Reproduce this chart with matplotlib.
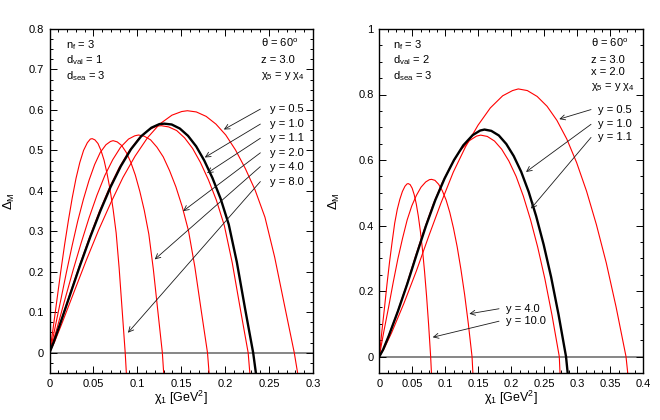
import matplotlib
matplotlib.use('Agg')
import matplotlib.pyplot as plt
from matplotlib.ticker import MultipleLocator, FixedLocator, FixedFormatter

plt.rcParams['font.family'] = ['Liberation Sans', 'DejaVu Sans']
plt.rcParams['mathtext.fontset'] = 'custom'
plt.rcParams['mathtext.rm'] = 'Liberation Sans'
plt.rcParams['mathtext.it'] = 'Liberation Sans'
plt.rcParams['mathtext.bf'] = 'Liberation Sans:bold'

# ---- left panel: d_val = 1, curves for chi5 = y chi4 ----
xl_80 = [0, 0.0017, 0.0043, 0.0086, 0.0129, 0.0172, 0.0216, 0.0259, 0.0302, 0.0345, 0.0388, 0.0431, 0.0465,
         0.0486, 0.0517, 0.0552, 0.0586, 0.0621, 0.0655, 0.0690, 0.0724, 0.0759, 0.0793, 0.0828, 0.0862, 0.0875]
yl_80 = [0, 0.023, 0.063, 0.133, 0.202, 0.267, 0.328, 0.383, 0.431, 0.470, 0.500, 0.519, 0.528,
         0.529, 0.526, 0.517, 0.500, 0.476, 0.443, 0.403, 0.355, 0.296, 0.209, 0.103, 0, -0.05]
xl_40 = [0, 0.0026, 0.0064, 0.0129, 0.0193, 0.0257, 0.0321, 0.0386, 0.0450, 0.0514, 0.0578, 0.0643, 0.0694,
         0.0724, 0.0771, 0.0822, 0.0874, 0.0925, 0.0977, 0.1028, 0.1079, 0.1131, 0.1182, 0.1234, 0.1285, 0.1300]
yl_40 = [0, 0.023, 0.063, 0.131, 0.199, 0.264, 0.325, 0.379, 0.426, 0.465, 0.495, 0.514, 0.522,
         0.524, 0.521, 0.512, 0.495, 0.471, 0.439, 0.399, 0.352, 0.293, 0.207, 0.102, 0, -0.05]
xl_20 = [0, 0.0036, 0.0090, 0.0180, 0.0270, 0.0360, 0.0450, 0.0540, 0.0630, 0.0720, 0.0810, 0.0900, 0.0971,
         0.1014, 0.1079, 0.1151, 0.1223, 0.1295, 0.1367, 0.1439, 0.1511, 0.1583, 0.1655, 0.1727, 0.1799, 0.1817]
yl_20 = [0, 0.024, 0.064, 0.135, 0.205, 0.271, 0.333, 0.389, 0.438, 0.477, 0.508, 0.528, 0.536,
         0.538, 0.535, 0.526, 0.508, 0.484, 0.450, 0.410, 0.361, 0.301, 0.212, 0.105, 0, -0.05]
xl_11 = [0, 0.0045, 0.0113, 0.0226, 0.0339, 0.0452, 0.0566, 0.0679, 0.0792, 0.0905, 0.1018, 0.1131, 0.1221,
         0.1274, 0.1357, 0.1448, 0.1538, 0.1629, 0.1719, 0.1810, 0.1900, 0.1991, 0.2081, 0.2172, 0.2262, 0.2281]
yl_11 = [0, 0.025, 0.067, 0.141, 0.214, 0.283, 0.348, 0.406, 0.457, 0.498, 0.530, 0.551, 0.560,
         0.561, 0.558, 0.549, 0.531, 0.505, 0.470, 0.427, 0.377, 0.314, 0.222, 0.109, 0, -0.05]
xl_10 = [0, 0.0046, 0.0116, 0.0232, 0.0348, 0.0464, 0.0580, 0.0696, 0.0812, 0.0928, 0.1044, 0.1160, 0.1252,
         0.1307, 0.1391, 0.1484, 0.1577, 0.1670, 0.1762, 0.1855, 0.1948, 0.2041, 0.2133, 0.2226, 0.2319, 0.2350]
yl_10 = [0, 0.025, 0.068, 0.142, 0.216, 0.286, 0.351, 0.410, 0.461, 0.503, 0.535, 0.556, 0.565,
         0.566, 0.564, 0.554, 0.536, 0.510, 0.475, 0.432, 0.381, 0.317, 0.224, 0.110, 0, -0.05]
xl_05 = [0, 0.0056, 0.0139, 0.0279, 0.0418, 0.0557, 0.0697, 0.0836, 0.0975, 0.1115, 0.1254, 0.1394, 0.1505,
         0.1570, 0.1672, 0.1784, 0.1895, 0.2007, 0.2118, 0.2230, 0.2341, 0.2453, 0.2564, 0.2676, 0.2787, 0.2825]
yl_05 = [0, 0.026, 0.071, 0.150, 0.228, 0.302, 0.370, 0.433, 0.486, 0.531, 0.565, 0.587, 0.596,
         0.598, 0.595, 0.584, 0.565, 0.538, 0.501, 0.455, 0.402, 0.335, 0.236, 0.117, 0, -0.05]

left_labels = ['y = 0.5', 'y = 1.0', 'y = 1.1', 'y = 2.0', 'y = 4.0', 'y = 8.0']
left_label_y = [0.602, 0.565, 0.530, 0.494, 0.460, 0.423]
left_tip_x = [0.1985, 0.1768, 0.1794, 0.1521, 0.1198, 0.0893]
left_tip_y = [0.5516, 0.4825, 0.4437, 0.3499, 0.2306, 0.0494]

# ---- right panel: d_val = 2 ----
xr_100 = [0, 0.0016, 0.0039, 0.0078, 0.0117, 0.0156, 0.0195, 0.0233, 0.0272, 0.0311, 0.0350, 0.0389, 0.0420,
          0.0438, 0.0467, 0.0498, 0.0529, 0.0560, 0.0591, 0.0622, 0.0654, 0.0685, 0.0716, 0.0747, 0.0778, 0.0790]
yr_100 = [0, 0.032, 0.077, 0.148, 0.222, 0.290, 0.351, 0.407, 0.449, 0.480, 0.504, 0.520, 0.527,
          0.528, 0.525, 0.514, 0.494, 0.466, 0.429, 0.383, 0.327, 0.261, 0.185, 0.098, 0, -0.05]
xr_40 = [0, 0.0028, 0.0070, 0.0141, 0.0211, 0.0281, 0.0351, 0.0422, 0.0492, 0.0562, 0.0632, 0.0703, 0.0759,
         0.0792, 0.0843, 0.0899, 0.0955, 0.1012, 0.1068, 0.1124, 0.1180, 0.1236, 0.1293, 0.1349, 0.1405, 0.1418]
yr_40 = [0, 0.032, 0.078, 0.151, 0.227, 0.298, 0.360, 0.417, 0.460, 0.492, 0.517, 0.533, 0.540,
         0.541, 0.538, 0.526, 0.506, 0.478, 0.440, 0.392, 0.335, 0.267, 0.189, 0.100, 0, -0.05]
xr_11 = [0, 0.0055, 0.0136, 0.0273, 0.0409, 0.0545, 0.0682, 0.0818, 0.0954, 0.1091, 0.1227, 0.1364, 0.1473,
         0.1536, 0.1636, 0.1745, 0.1854, 0.1963, 0.2073, 0.2182, 0.2291, 0.2400, 0.2509, 0.2618, 0.2727, 0.2738]
yr_11 = [0, 0.020, 0.061, 0.135, 0.216, 0.304, 0.389, 0.466, 0.531, 0.585, 0.629, 0.659, 0.673,
         0.676, 0.672, 0.658, 0.633, 0.597, 0.550, 0.490, 0.418, 0.334, 0.237, 0.125, 0, -0.05]
xr_10 = [0, 0.0057, 0.0141, 0.0283, 0.0424, 0.0566, 0.0707, 0.0849, 0.0990, 0.1132, 0.1273, 0.1415, 0.1528,
         0.1594, 0.1697, 0.1811, 0.1924, 0.2037, 0.2150, 0.2263, 0.2376, 0.2490, 0.2603, 0.2716, 0.2829, 0.2854]
yr_10 = [0, 0.021, 0.062, 0.139, 0.222, 0.312, 0.399, 0.478, 0.544, 0.600, 0.645, 0.676, 0.690,
         0.693, 0.689, 0.675, 0.649, 0.612, 0.564, 0.503, 0.429, 0.342, 0.243, 0.128, 0, -0.05]
xr_05 = [0, 0.0075, 0.0187, 0.0374, 0.0561, 0.0748, 0.0935, 0.1121, 0.1308, 0.1495, 0.1682, 0.1869, 0.2019,
         0.2106, 0.2243, 0.2392, 0.2542, 0.2691, 0.2841, 0.2990, 0.3140, 0.3289, 0.3439, 0.3588, 0.3738, 0.3764]
yr_05 = [0, 0.025, 0.073, 0.163, 0.261, 0.367, 0.469, 0.563, 0.641, 0.706, 0.759, 0.796, 0.812,
         0.817, 0.812, 0.794, 0.764, 0.721, 0.664, 0.592, 0.505, 0.403, 0.286, 0.151, 0, -0.05]

right_labels = ['y = 0.5', 'y = 1.0', 'y = 1.1', 'y = 4.0', 'y = 10.0']
right_label_x = [0.3318, 0.3318, 0.3318, 0.1915, 0.1915]
right_label_y = [0.754, 0.709, 0.669, 0.146, 0.108]
right_tail_x = [0.3208, 0.3208, 0.3208, 0.1814, 0.1814]
right_tip_x = [0.2727, 0.2223, 0.2298, 0.1364, 0.0809]
right_tip_y = [0.7248, 0.5636, 0.4517, 0.1306, 0.059]

left_xticks = [0, 0.05, 0.1, 0.15, 0.2, 0.25, 0.3]
left_xticklabels = ['0', '0.05', '0.1', '0.15', '0.2', '0.25', '0.3']
left_yticks = [0, 0.1, 0.2, 0.3, 0.4, 0.5, 0.6, 0.7, 0.8]
left_yticklabels = ['0', '0.1', '0.2', '0.3', '0.4', '0.5', '0.6', '0.7', '0.8']
right_xticks = [0, 0.05, 0.1, 0.15, 0.2, 0.25, 0.3, 0.35, 0.4]
right_xticklabels = ['0', '0.05', '0.1', '0.15', '0.2', '0.25', '0.3', '0.35', '0.4']
right_yticks = [0, 0.2, 0.4, 0.6, 0.8, 1.0]
right_yticklabels = ['0', '0.2', '0.4', '0.6', '0.8', '1']

fs = 8
red = '#ff0000'

fig = plt.figure(figsize=(6.6, 4.2), dpi=100)
axL = fig.add_axes([0.075, 0.112, 0.3992, 0.819])
axR = fig.add_axes([0.5747, 0.112, 0.400, 0.819])


def style(ax, xt, xtl, yt, ytl, xminor, yminor, ylab_x):
    ax.xaxis.set_major_locator(FixedLocator(xt))
    ax.xaxis.set_major_formatter(FixedFormatter(xtl))
    ax.yaxis.set_major_locator(FixedLocator(yt))
    ax.yaxis.set_major_formatter(FixedFormatter(ytl))
    ax.xaxis.set_minor_locator(MultipleLocator(xminor))
    ax.yaxis.set_minor_locator(MultipleLocator(yminor))
    ax.tick_params(which='both', direction='in', top=True, right=True,
                   width=0.7, labelsize=fs, pad=4)
    ax.tick_params(which='major', length=5)
    ax.tick_params(which='minor', length=2.5)
    for s in ax.spines.values():
        s.set_linewidth(1.0)
    ax.axhline(0, color='0.4', lw=1.1, zorder=1)
    ax.set_ylabel(r'$\Delta_{\rm M}$', fontsize=9.5)
    ax.yaxis.set_label_coords(ylab_x, 0.5)
    ax.set_xlabel(r'$\chi_1$ [GeV$^2$]', fontsize=9)
    ax.xaxis.set_label_coords(0.5, -0.045)


# left
for xs, ys in [(xl_80, yl_80), (xl_40, yl_40), (xl_20, yl_20), (xl_11, yl_11), (xl_05, yl_05)]:
    axL.plot(xs, ys, color=red, lw=0.8, zorder=2)
axL.plot(xl_10, yl_10, color='black', lw=1.7, zorder=3)
axL.set_xlim(0, 0.3)
axL.set_ylim(-0.05, 0.8)
style(axL, left_xticks, left_xticklabels, left_yticks, left_yticklabels, 0.01, 0.025, -0.125)

for lab, ly, tx, ty in zip(left_labels, left_label_y, left_tip_x, left_tip_y):
    axL.annotate('', xy=(tx, ty), xytext=(0.2401, ly),
                 arrowprops=dict(arrowstyle='->', lw=0.6, color='0.1',
                                 shrinkA=0, shrinkB=0, mutation_scale=9))
    axL.text(0.251, ly, lab, fontsize=fs, va='center', ha='left')

axL.text(0.019, 0.76, r'n$_{\rm f}$ = 3', fontsize=fs, va='center')
axL.text(0.019, 0.7227, r'd$_{\rm val}$ = 1', fontsize=fs, va='center')
axL.text(0.019, 0.6832, r'd$_{\rm sea}$ = 3', fontsize=fs, va='center')
axL.text(0.2403, 0.7647, r'$\theta$ = 60$^{\rm o}$', fontsize=fs, va='center')
axL.text(0.2403, 0.7227, 'z = 3.0', fontsize=fs, va='center')
axL.text(0.2403, 0.6842, r'$\chi_5$ = y $\chi_4$', fontsize=fs, va='center')

# right
for xs, ys in [(xr_100, yr_100), (xr_40, yr_40), (xr_11, yr_11), (xr_05, yr_05)]:
    axR.plot(xs, ys, color=red, lw=0.8, zorder=2)
axR.plot(xr_10, yr_10, color='black', lw=1.7, zorder=3)
axR.set_xlim(0, 0.4)
axR.set_ylim(-0.05, 1.0)
style(axR, right_xticks, right_xticklabels, right_yticks, right_yticklabels, 0.0125, 0.05, -0.14)

for i in range(len(right_labels)):
    axR.annotate('', xy=(right_tip_x[i], right_tip_y[i]),
                 xytext=(right_tail_x[i], right_label_y[i]),
                 arrowprops=dict(arrowstyle='->', lw=0.6, color='0.1',
                                 shrinkA=0, shrinkB=0, mutation_scale=9))
    axR.text(right_label_x[i], right_label_y[i], right_labels[i], fontsize=fs,
             va='center', ha='left')

axR.text(0.0212, 0.951, r'n$_{\rm f}$ = 3', fontsize=fs, va='center')
axR.text(0.0212, 0.9052, r'd$_{\rm val}$ = 2', fontsize=fs, va='center')
axR.text(0.0212, 0.856, r'd$_{\rm sea}$ = 3', fontsize=fs, va='center')
axR.text(0.3203, 0.957, r'$\theta$ = 60$^{\rm o}$', fontsize=fs, va='center')
axR.text(0.3203, 0.905, 'z = 3.0', fontsize=fs, va='center')
axR.text(0.3203, 0.8685, 'x = 2.0', fontsize=fs, va='center')
axR.text(0.3203, 0.8236, r'$\chi_5$ = y $\chi_4$', fontsize=fs, va='center')

fig.savefig('out.png', dpi=100)
